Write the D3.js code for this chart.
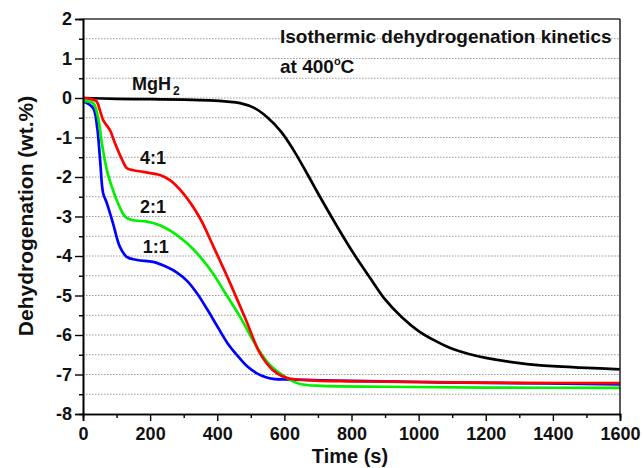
<!DOCTYPE html>
<html>
<head>
<meta charset="utf-8">
<script src="https://cdn.jsdelivr.net/npm/d3@7"></script>
<style>
  html, body { margin: 0; padding: 0; background: #fff; }
  svg { display: block; font-family: Arial, "Liberation Sans", sans-serif; }
  text { font-weight: bold; fill: #111; }
</style>
</head>
<body>
<svg id="chart" width="643" height="468"></svg>
<script>
// Isothermal dehydrogenation at 400 °C: hydrogen released (wt.%) against time (s)
const xTicks = [0, 200, 400, 600, 800, 1000, 1200, 1400, 1600];
const yTicks = [2, 1, 0, -1, -2, -3, -4, -5, -6, -7, -8];

const tMgH2 = [0, 100, 200, 300, 378, 430, 468, 510, 548, 590, 626, 670, 706, 757, 805, 855, 900, 950, 1000, 1050, 1100, 1150, 1200, 1300, 1400, 1500, 1600];
const vMgH2 = [0, -0.02, -0.03, -0.04, -0.06, -0.09, -0.13, -0.25, -0.48, -0.85, -1.3, -1.95, -2.5, -3.25, -3.92, -4.55, -5.1, -5.55, -5.9, -6.15, -6.35, -6.48, -6.58, -6.71, -6.79, -6.83, -6.87];

const t41 = [0, 20, 40, 50, 60, 80, 95, 117, 130, 150, 179, 229, 259, 298, 349, 388, 438, 488, 527, 566, 608, 668, 766, 900, 1100, 1300, 1600];
const v41 = [0, -0.02, -0.08, -0.3, -0.56, -0.81, -1.14, -1.57, -1.77, -1.83, -1.87, -1.95, -2.08, -2.41, -3.05, -3.75, -4.68, -5.67, -6.46, -6.89, -7.09, -7.14, -7.17, -7.18, -7.2, -7.21, -7.22];

const t21 = [0, 30, 45, 56, 71, 86, 104, 125, 146, 190, 229, 268, 310, 349, 388, 418, 468, 518, 557, 608, 647, 715, 900, 1200, 1600];
const v21 = [-0.08, -0.13, -0.5, -1.14, -1.82, -2.25, -2.66, -3.0, -3.09, -3.13, -3.22, -3.4, -3.68, -4.02, -4.45, -4.86, -5.54, -6.3, -6.76, -7.09, -7.24, -7.29, -7.31, -7.33, -7.34];

const t11 = [0, 30, 42, 51, 60, 71, 89, 110, 130, 161, 209, 250, 280, 310, 340, 370, 400, 430, 460, 490, 518, 545, 566, 620, 800, 1000, 1200, 1600];
const v11 = [-0.08, -0.25, -0.73, -1.57, -2.41, -2.66, -3.16, -3.77, -4.02, -4.1, -4.15, -4.28, -4.42, -4.63, -4.95, -5.35, -5.78, -6.2, -6.52, -6.8, -6.97, -7.07, -7.11, -7.13, -7.16, -7.19, -7.21, -7.25];

const series = [
  { name: "MgH2", t: tMgH2, v: vMgH2, color: "#000000" },
  { name: "1:1", t: t11, v: v11, color: "#0000ff" },
  { name: "2:1", t: t21, v: v21, color: "#00f000" },
  { name: "4:1", t: t41, v: v41, color: "#ff0000" }
];

const svg = d3.select("#chart");
const m = { left: 83, right: 620, top: 19, bottom: 414 };

const x = d3.scaleLinear().domain([0, 1600]).range([m.left, m.right]);
const y = d3.scaleLinear().domain([-8, 2]).range([m.bottom, m.top]);

// dotted horizontal grid every 0.5 wt.%
const gridVals = d3.range(-7.5, 2, 0.5);
svg.append("g").selectAll("line").data(gridVals).join("line")
  .attr("x1", m.left).attr("x2", m.right)
  .attr("y1", d => y(d)).attr("y2", d => y(d))
  .attr("stroke", "#9a9a9a").attr("stroke-width", 1)
  .attr("stroke-dasharray", "1.5,1.5");

// curves
const line = d3.line().x(d => x(d[0])).y(d => y(d[1])).curve(d3.curveCatmullRom.alpha(0.5));
svg.append("g").selectAll("path").data(series).join("path")
  .attr("d", s => line(s.t.map((t, i) => [t, s.v[i]])))
  .attr("fill", "none")
  .attr("stroke", s => s.color)
  .attr("stroke-width", 2.7)
  .attr("stroke-linejoin", "round");

// frame: top and right borders
svg.append("line").attr("x1", m.left).attr("x2", m.right).attr("y1", m.top).attr("y2", m.top)
  .attr("stroke", "#333").attr("stroke-width", 1.5);
svg.append("line").attr("x1", m.right).attr("x2", m.right).attr("y1", m.top).attr("y2", m.bottom)
  .attr("stroke", "#222").attr("stroke-width", 1.5);

// axes
const xAxis = d3.axisBottom(x).tickValues(xTicks).tickSize(7).tickPadding(6).tickFormat(d3.format("d"));
const xMinor = d3.axisBottom(x).tickValues(d3.range(100, 1600, 200)).tickSize(4).tickFormat("");
const yAxis = d3.axisLeft(y).tickValues(yTicks).tickSize(8).tickPadding(3).tickFormat(d => d < 0 ? "-" + Math.abs(d) : d);
const yMinor = d3.axisLeft(y).tickValues(d3.range(-7.5, 2, 1)).tickSize(4).tickFormat("");

function styleAxis(g, fs) {
  g.select(".domain").attr("stroke", "#000").attr("stroke-width", 1.6);
  g.selectAll(".tick line").attr("stroke", "#000").attr("stroke-width", 1.4);
  g.selectAll(".tick text").attr("font-size", fs).attr("font-weight", "bold")
    .attr("font-family", "Arial, 'Liberation Sans', sans-serif").attr("fill", "#111");
}

svg.append("g").attr("transform", `translate(0,${m.bottom})`).call(xMinor).call(g => styleAxis(g, 18));
svg.append("g").attr("transform", `translate(0,${m.bottom})`).call(xAxis).call(g => styleAxis(g, 18));
svg.append("g").attr("transform", `translate(${m.left},0)`).call(yMinor).call(g => styleAxis(g, 18));
svg.append("g").attr("transform", `translate(${m.left},0)`).call(yAxis).call(g => styleAxis(g, 18));

// axis titles
svg.append("text").attr("x", 350).attr("y", 463).attr("text-anchor", "middle")
  .attr("font-size", 20).text("Time (s)");
svg.append("text").attr("transform", "translate(33,216) rotate(-90)").attr("text-anchor", "middle")
  .attr("font-size", 21).text("Dehydrogenation (wt.%)");

// annotation
svg.append("text").attr("x", 280).attr("y", 43).attr("font-size", 19)
  .text("Isothermic dehydrogenation kinetics");
const t2 = svg.append("text").attr("x", 280).attr("y", 73).attr("font-size", 19);
t2.append("tspan").text("at 400");
t2.append("tspan").attr("font-size", 11).attr("dy", -8).text("o");
t2.append("tspan").attr("dy", 8).text("C");

// curve labels
const mg = svg.append("text").attr("x", 132).attr("y", 90).attr("font-size", 18);
mg.append("tspan").text("MgH");
mg.append("tspan").attr("font-size", 12).attr("dx", 2).attr("dy", 5).text("2");

const labels = [
  { text: "4:1", t: 170, v: -1.77 },
  { text: "2:1", t: 170, v: -3.0 },
  { text: "1:1", t: 178, v: -4.02 }
];
svg.append("g").selectAll("text").data(labels).join("text")
  .attr("x", d => x(d.t)).attr("y", d => y(d.v) - 4)
  .attr("font-size", 18).text(d => d.text);
</script>
</body>
</html>
